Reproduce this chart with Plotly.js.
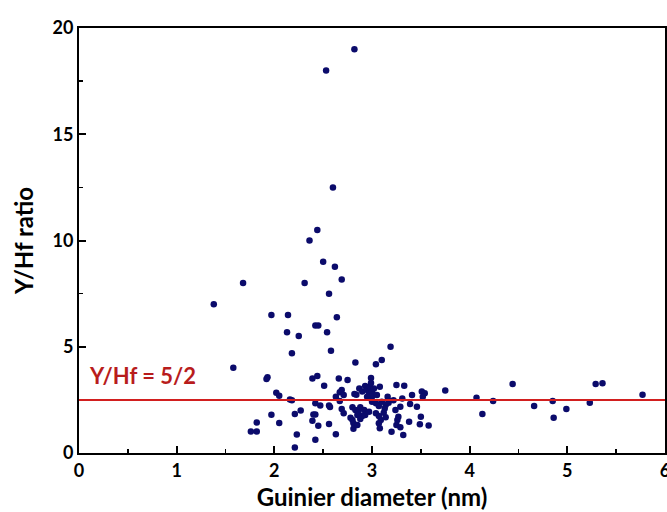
<!DOCTYPE html>
<html>
<head>
<meta charset="utf-8">
<script src="https://cdn.plot.ly/plotly-3.0.1.min.js"></script>
<style>html,body{margin:0;padding:0;background:#fff;}#chart{width:667px;height:512px;}</style>
</head>
<body>
<div id="chart"></div>
<script>
// Guinier diameter (nm)
const diameter = [
  2.82,2.53,2.60,2.44,2.36,2.50,2.62,2.69,1.68,2.31,2.56,1.38,1.97,2.14,2.64,2.42,2.45,2.13,2.54,2.25,
  3.19,2.18,2.58,2.83,3.04,3.10,1.58,1.93,1.92,2.39,2.44,2.66,2.75,2.51,2.99,
  3.75,4.44,5.29,5.36,5.77,4.07,4.24,4.13,4.66,4.85,4.86,4.99,5.23,
  2.02,2.05,2.16,2.18,1.97,2.21,2.27,2.05,1.82,1.76,1.82,2.23,2.21,2.42,2.63,
  2.42,2.47,2.40,2.42,2.39,2.45,2.56,2.57,2.56,2.63,2.67,2.69,2.71,2.67,2.69,2.71,2.78,2.80,2.81,2.81,2.85,2.84,2.87,
  2.80,2.83,2.86,2.88,2.92,2.93,2.97,2.90,2.85,2.82,2.90,2.93,2.95,2.97,2.98,3.00,3.02,3.00,2.95,3.05,3.08,
  3.00,3.04,3.07,3.10,3.14,3.17,3.04,3.07,3.09,3.12,3.14,3.07,3.08,2.99,2.88,
  3.16,3.17,3.25,3.33,3.31,3.29,3.24,3.27,3.26,3.25,3.29,3.20,3.32,3.39,3.46,3.38,3.50,3.49,3.58,3.41,3.51,3.54,3.52,3.22,3.13
];
// Y/Hf ratio
const ratio = [
  19.0,18.0,12.5,10.5,10.0,9.0,8.76,8.17,8.0,8.0,7.49,7.0,6.5,6.5,6.39,6.0,6.0,5.68,5.68,5.51,
  5.0,4.69,4.81,4.26,4.18,4.38,4.01,3.56,3.48,3.51,3.62,3.51,3.44,3.17,3.53,
  2.94,3.25,3.25,3.28,2.74,2.60,2.45,1.83,2.21,2.45,1.66,2.07,2.37,
  2.83,2.69,2.52,2.48,1.80,1.83,2.00,1.41,1.44,1.01,1.01,0.87,0.26,0.62,0.88,
  2.34,2.24,1.81,1.81,1.52,1.28,2.24,2.17,1.36,2.65,2.86,2.96,2.73,2.45,2.07,1.87,1.66,1.55,1.40,1.14,1.32,2.74,3.04,
  2.15,2.02,1.94,2.15,2.02,1.79,1.94,1.74,1.79,2.78,2.89,3.15,2.96,2.81,3.12,2.89,3.04,2.65,2.65,2.73,3.12,
  2.41,2.34,2.21,2.41,2.26,2.37,1.87,1.74,1.55,1.90,1.68,1.40,1.16,3.30,1.60,
  2.65,2.46,3.20,3.17,2.57,2.18,2.02,1.71,1.55,1.32,1.21,1.00,0.85,2.31,2.18,1.47,1.71,1.35,1.29,2.73,2.89,2.81,2.65,2.48,2.10
];
const refRatio = 2.5;
const refLabel = "Y/Hf = 5/2";
const xTitle = "Guinier diameter (nm)";
const yTitle = "Y/Hf ratio";

const FONT = "Lato, 'Open Sans', sans-serif";

const trace = {
  x: diameter, y: ratio, type: "scatter", mode: "markers",
  marker: {color: "#0b0b6b", size: 6.5},
  hoverinfo: "x+y", showlegend: false
};

const axisCommon = {
  showline: true, mirror: true, linecolor: "#000", linewidth: 2,
  ticks: "inside", ticklen: 7, tickwidth: 2, tickcolor: "#000",
  showgrid: false, zeroline: false, ticklabeloverflow: "allow",
  tickfont: {family: FONT, size: 18, color: "#000", weight: "bold"}
};

const layout = {
  width: 667, height: 512,
  margin: {l: 79, r: 2, t: 28, b: 59},
  paper_bgcolor: "#fff", plot_bgcolor: "#fff",
  xaxis: Object.assign({}, axisCommon, {
    range: [0, 6], dtick: 1, tick0: 0,
    minor: {dtick: 0.5, ticks: "inside", ticklen: 4, tickwidth: 1.5, tickcolor: "#000"},
    title: {text: xTitle, font: {family: FONT, size: 24, color: "#000", weight: "bold"}, standoff: 10}
  }),
  yaxis: Object.assign({}, axisCommon, {
    range: [0, 20], dtick: 5, tick0: 0,
    minor: {dtick: 2.5, ticks: "inside", ticklen: 4, tickwidth: 1.5, tickcolor: "#000"},
    title: {text: yTitle, font: {family: FONT, size: 24, color: "#000", weight: "bold"}, standoff: 12}
  }),
  shapes: [{
    type: "line", xref: "paper", x0: 0, x1: 1, yref: "y", y0: refRatio, y1: refRatio,
    line: {color: "#d21f1f", width: 2}
  }],
  annotations: [{
    text: refLabel, xref: "paper", x: 0.013, xanchor: "left",
    yref: "y", y: refRatio + 1.15, yanchor: "middle", showarrow: false,
    font: {family: FONT, size: 22, color: "#b81c1c", weight: "bold"}
  }]
};

Plotly.newPlot("chart", [trace], layout, {displayModeBar: false, staticPlot: true});
</script>
</body>
</html>
